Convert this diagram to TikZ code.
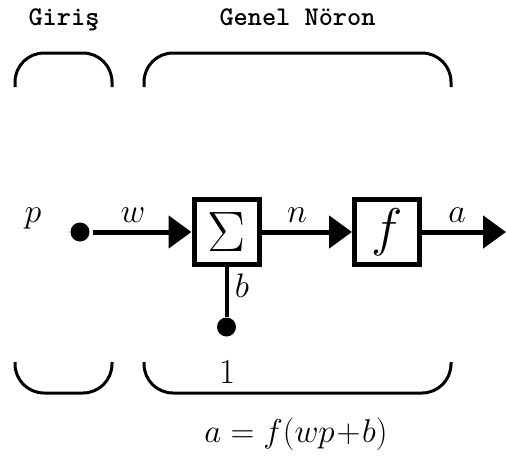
\RequirePackage{fix-cm}
\documentclass[tikz,border=0pt]{standalone}
\usepackage{fontspec}
\usetikzlibrary{arrows.meta}
\begin{document}
\begin{tikzpicture}[x=1pt,y=-1pt,
  blockbox/.style={draw, line width=5pt, minimum size=65pt, inner sep=0pt},
  dotnode/.style={circle, fill, minimum size=19pt, inner sep=0pt},
  lbl/.style={anchor=base, inner sep=0pt, font=\fontsize{34}{34}\selectfont},
  titlelbl/.style={anchor=base, inner sep=0pt, font=\fontsize{27}{27}\selectfont\ttfamily\bfseries},
  sigline/.style={line width=5pt, -{Triangle[length=23pt,width=32pt]}},
  bracket/.style={line width=3pt, rounded corners=29pt}]
\useasboundingbox (0,0) rectangle (506,461);
% titles
\node[titlelbl] (tg) at (64,25) {Giriş};
\node[titlelbl] (tn) at (297.5,25) {Genel Nöron};
% brackets
\draw[bracket] (15,87) -- (15,53) -- (112,53) -- (112,87);
\draw[bracket] (144,87) -- (144,53) -- (451,53) -- (451,87);
\draw[bracket] (15,362) -- (15,393) -- (112,393) -- (112,362);
\draw[bracket] (144,362) -- (144,393) -- (451,393) -- (451,362);
% blocks
\node[blockbox, font=\fontsize{57}{57}\selectfont] (sum) at (226.5,232) {$\Sigma$};
\node[blockbox, font=\fontsize{53}{53}\selectfont] (fn) at (387,232) {$f$};
\node[dotnode] (pin) at (80,232) {};
\node[dotnode] (bin) at (226.5,327) {};
\coordinate (out) at (506,232);
% connectors
\draw[sigline, shorten <=3pt] (pin) -- (sum);
\draw[sigline] (sum) -- (fn);
\draw[sigline] (fn) -- (out);
\draw[line width=4pt] (sum) -- (bin);
% labels
\node[lbl] (lp) at (33,222) {$p$};
\node[lbl] (lw) at (133,222) {$w$};
\node[lbl] (ln) at (297,222) {$n$};
\node[lbl] (la) at (457,222) {$a$};
\node[lbl] (lb) at (242,297) {$b$};
\node[lbl, font=\fontsize{35}{35}\selectfont] (one) at (228,383) {1};
\node[lbl, font=\fontsize{33}{33}\selectfont] (eq) at (296,442) {$a=f(wp\mkern1mu{+}\mkern1mu b)$};
\end{tikzpicture}
\end{document}
